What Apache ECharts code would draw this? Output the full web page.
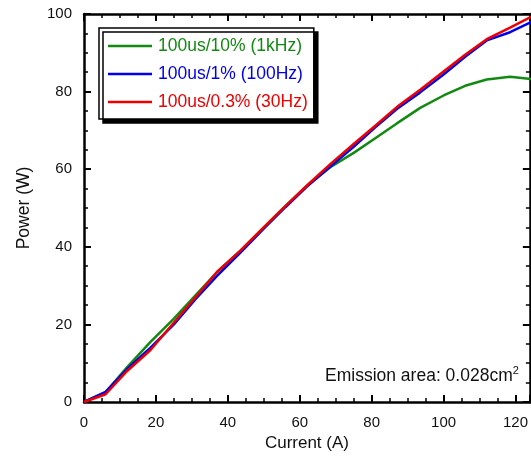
<!DOCTYPE html>
<html>
<head>
<meta charset="utf-8">
<script src="https://cdn.jsdelivr.net/npm/echarts@6/dist/echarts.min.js"></script>
<style>
  html, body { margin: 0; padding: 0; background: #fff; }
  #chart { width: 531px; height: 458px; }
</style>
</head>
<body>
<div id="chart"></div>
<script>
// current (A) sample points, shared by all three curves
const current = [0, 6, 12, 18.5, 25, 31, 37, 43.5, 50, 56, 62, 68.5, 75, 81, 87, 93.5, 100, 106, 112, 118.5, 125];

// power (W)
const duty10 = [0, 2.5, 9, 15.5, 21.5, 27.5, 33.5, 39, 45, 50.5, 55.7, 60.5, 64.2, 68, 71.8, 75.8, 79, 81.5, 83.1, 83.8, 83.2];
const duty1 = [0, 2.6, 8.5, 14, 20, 26.5, 32.5, 38.5, 44.7, 50.2, 55.5, 60.7, 65.8, 70.8, 75.5, 79.8, 84.4, 89, 93.2, 95.3, 98.2];
const duty03 = [0, 2, 8, 13.4, 20.5, 27, 33.5, 39, 45, 50.5, 55.8, 61.3, 66.5, 71.2, 76, 80.5, 85.2, 89.5, 93.5, 96.5, 99.6];

const seriesNames = ["100us/10% (1kHz)", "100us/1% (100Hz)", "100us/0.3% (30Hz)"];
const seriesColors = ["#128a12", "#0000ee", "#ee0000"];

const xTicks = [0, 20, 40, 60, 80, 100, 120];
const yTicks = [0, 20, 40, 60, 80, 100];

const chart = echarts.init(document.getElementById("chart"));

const pairs = (ys) => current.map((x, i) => [x, ys[i]]);

const axisLine = { show: true, onZero: false, lineStyle: { color: "#000", width: 2.5 } };
const axisTick = { show: true, inside: true, length: 7, lineStyle: { color: "#000", width: 2 } };
const minorTick = { show: true, splitNumber: 4, length: 4, lineStyle: { color: "#000", width: 1.5 } };
const font = "Liberation Sans";

const makeLine = (i, ys) => ({
    name: seriesNames[i],
    type: "line",
    data: pairs(ys),
    symbol: "none",
    smooth: false,
    lineStyle: { color: seriesColors[i], width: 2.5 },
    itemStyle: { color: seriesColors[i] },
});

const option = {
    animation: false,
    backgroundColor: "#ffffff",
    grid: { left: 84, top: 14, right: -1, bottom: 56 },
    xAxis: [
        {
            type: "value",
            min: 0,
            max: 124,
            interval: 20,
            position: "bottom",
            name: "Current (A)",
            nameLocation: "middle",
            nameGap: 30,
            nameTextStyle: { fontFamily: font, fontSize: 17, color: "#111" },
            axisLine, axisTick, minorTick,
            splitLine: { show: false },
            axisLabel: {
                margin: 13,
                fontFamily: font, fontSize: 15, color: "#111",
                showMaxLabel: false,
                formatter: (v) => (xTicks.includes(v) ? String(v) : ""),
            },
        },
        {
            type: "value",
            min: 0,
            max: 124,
            interval: 20,
            position: "top",
            axisLine, axisTick, minorTick,
            splitLine: { show: false },
            axisLabel: { show: false },
        },
    ],
    yAxis: [
        {
            type: "value",
            min: 0,
            max: 100,
            interval: 20,
            position: "left",
            name: "Power (W)",
            nameLocation: "middle",
            nameGap: 51,
            nameTextStyle: { fontFamily: font, fontSize: 17.5, color: "#111" },
            axisLine, axisTick, minorTick,
            splitLine: { show: false },
            axisLabel: {
                margin: 12,
                fontFamily: font, fontSize: 15, color: "#111",
                formatter: (v) => (yTicks.includes(v) ? String(v) : ""),
            },
        },
        {
            type: "value",
            min: 0,
            max: 100,
            interval: 20,
            position: "right",
            axisLine, axisTick, minorTick,
            splitLine: { show: false },
            axisLabel: { show: false },
        },
    ],
    legend: {
        left: 99,
        top: 28,
        orient: "vertical",
        padding: [9, 6, 8, 9],
        itemGap: 10,
        itemWidth: 44,
        itemHeight: 2.5,
        icon: "rect",
        backgroundColor: "#fff",
        borderColor: "#000",
        borderWidth: 1.5,
        borderRadius: 0,
        shadowColor: "#000",
        shadowBlur: 0,
        shadowOffsetX: 4,
        shadowOffsetY: 4,
        textStyle: { fontFamily: font, fontSize: 17.5, padding: [0, 0, 0, 1] },
        data: seriesNames.map((n, i) => ({ name: n, textStyle: { color: seriesColors[i] } })),
    },
    graphic: [
        {
            type: "text",
            left: 325,
            top: 365,
            style: {
                text: "{t|Emission area: 0.028cm}{s|2}",
                rich: {
                    t: { fontFamily: font, fontSize: 17.5, fill: "#111", verticalAlign: "bottom", lineHeight: 20 },
                    s: { fontFamily: font, fontSize: 11, fill: "#111", verticalAlign: "top", lineHeight: 20 },
                },
            },
        },
    ],
    series: [
        makeLine(0, duty10),
        makeLine(1, duty1),
        makeLine(2, duty03),
    ],
};

chart.setOption(option);
</script>
</body>
</html>
